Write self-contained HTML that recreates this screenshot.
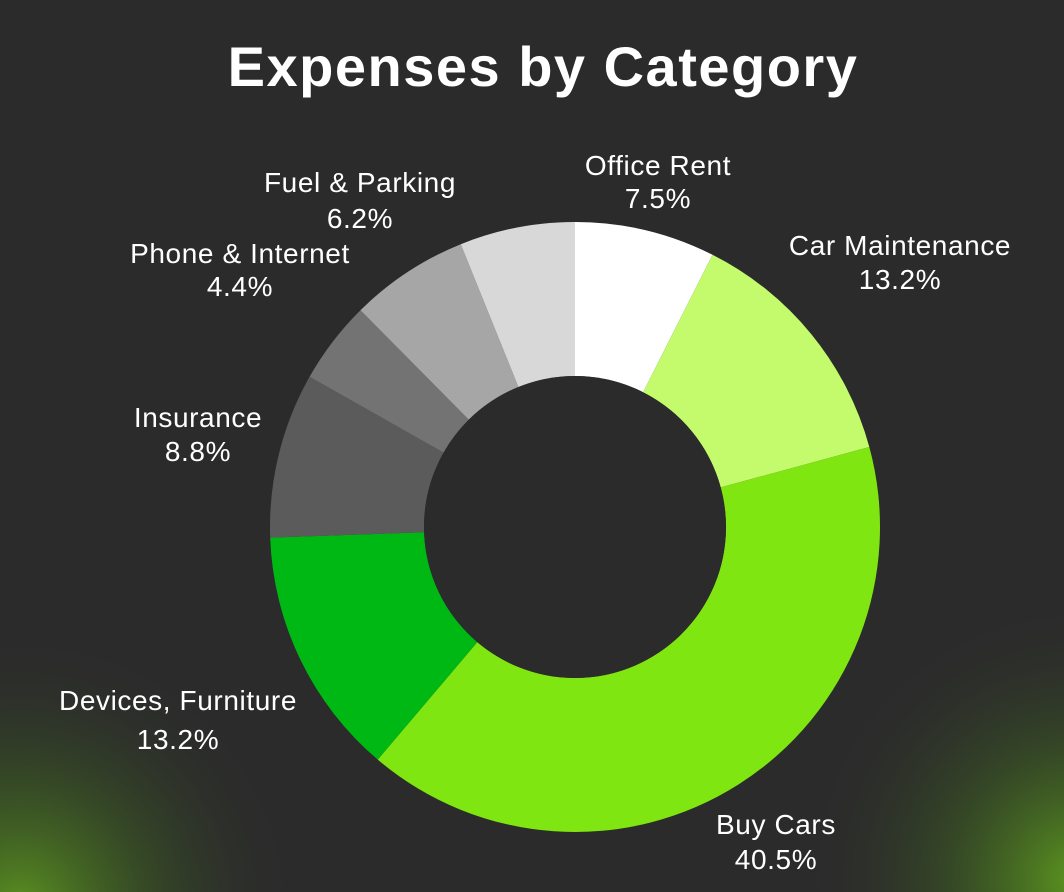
<!DOCTYPE html>
<html><head><meta charset="utf-8"><style>
html,body{margin:0;padding:0;width:1064px;height:892px;overflow:hidden}
body{background:#2b2b2b;font-family:"Liberation Sans",sans-serif}
svg{display:block}
</style></head><body>
<svg width="1064" height="892" id="s">
<defs>
<radialGradient id="g1" cx="20" cy="910" r="280" gradientUnits="userSpaceOnUse">
<stop offset="0" stop-color="#64a51e" stop-opacity="0.85"/><stop offset="0.45" stop-color="#46781e" stop-opacity="0.4"/><stop offset="1" stop-color="#2b2b2b" stop-opacity="0"/></radialGradient>
<radialGradient id="g2" cx="1080" cy="880" r="280" gradientUnits="userSpaceOnUse">
<stop offset="0" stop-color="#64a51e" stop-opacity="0.9"/><stop offset="0.45" stop-color="#46781e" stop-opacity="0.4"/><stop offset="1" stop-color="#2b2b2b" stop-opacity="0"/></radialGradient>
</defs>
<rect width="1064" height="892" fill="#2b2b2b"/>
<rect width="1064" height="892" fill="url(#g1)"/>
<rect width="1064" height="892" fill="url(#g2)"/>
<text x="543" y="86" text-anchor="middle" fill="#fff" font-size="56" font-weight="bold" letter-spacing="1.5" font-family="Liberation Sans, sans-serif">Expenses by Category</text>
<g id="pie"></g>
<g fill="#fff" font-size="28" text-anchor="middle" letter-spacing="0.6" font-family="Liberation Sans, sans-serif">
<text x="658" y="175">Office Rent</text><text x="658" y="208">7.5%</text>
<text x="900" y="255">Car Maintenance</text><text x="900" y="289">13.2%</text>
<text x="776" y="834">Buy Cars</text><text x="776" y="869">40.5%</text>
<text x="178" y="710">Devices, Furniture</text><text x="178" y="749">13.2%</text>
<text x="198" y="427">Insurance</text><text x="198" y="461">8.8%</text>
<text x="240" y="263">Phone &amp; Internet</text><text x="240" y="296">4.4%</text>
<text x="360" y="192">Fuel &amp; Parking</text><text x="360" y="228">6.2%</text>
</g>
</svg>
<script>
var cx=575,cy=527,R=305,r=151;
var seg=[[0,26.8,"#ffffff"],[26.8,74.8,"#c4fb6c"],[74.8,220.3,"#80e612"],[220.3,268,"#00b814"],[268,299.5,"#5b5b5b"],[299.5,315.3,"#737373"],[315.3,338,"#a6a6a6"],[338,360,"#d8d8d8"]];
function p(a,rad){a=a*Math.PI/180;return [cx+rad*Math.sin(a),cy-rad*Math.cos(a)];}
var g=document.getElementById("pie"),h="";
seg.forEach(function(s){var a=p(s[0],R),b=p(s[1],R),c=p(s[1],r),d=p(s[0],r);var l=(s[1]-s[0])>180?1:0;
h+='<path fill="'+s[2]+'" d="M'+a+' A'+R+' '+R+' 0 '+l+' 1 '+b+' L'+c+' A'+r+' '+r+' 0 '+l+' 0 '+d+' Z"/>';});
h+='<circle cx="'+cx+'" cy="'+cy+'" r="'+r+'" fill="#2b2b2b"/>';
g.innerHTML=h;
</script>
</body></html>
